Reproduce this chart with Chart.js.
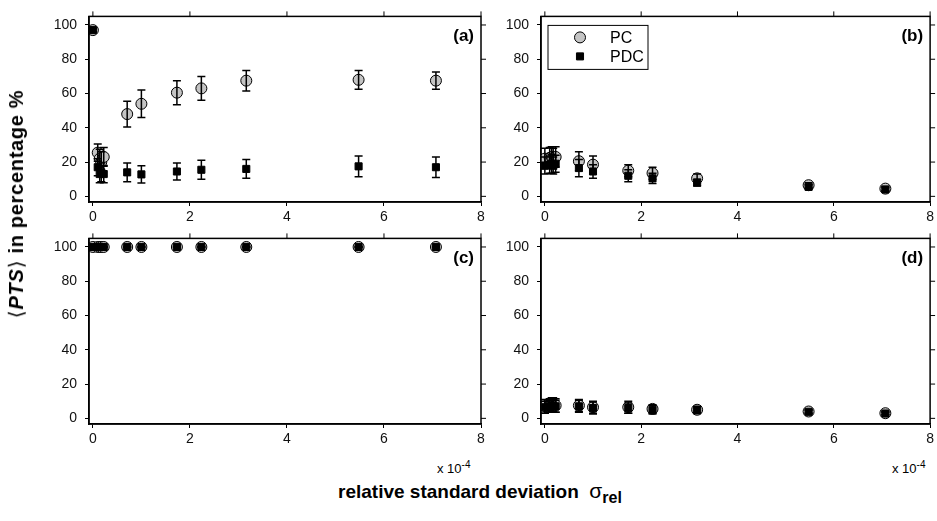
<!DOCTYPE html>
<html lang="en">
<head>
<meta charset="UTF-8">
<title>PTS vs relative standard deviation</title>
<script src="https://cdn.jsdelivr.net/npm/chart.js"></script>
<style>
  body { margin: 0; background: #fff; font-family: "Liberation Sans", Arial, sans-serif; }
  #wrap { position: relative; width: 937px; height: 521px; overflow: hidden; }
  canvas { position: absolute; }
  .lbl { position: absolute; color: #000; white-space: nowrap; }
</style>
</head>
<body>
<div id="wrap">
  <canvas id="chartA" style="left:0;top:0" width="490" height="222"></canvas>
  <canvas id="chartB" style="left:490px;top:0" width="447" height="222"></canvas>
  <canvas id="chartC" style="left:0;top:222px" width="490" height="228"></canvas>
  <canvas id="chartD" style="left:490px;top:222px" width="447" height="228"></canvas>

  <div class="lbl" style="left:16px;top:204px;transform:translate(-50%,-50%) rotate(-90deg);font-size:20px;font-weight:bold;letter-spacing:0.7px;">
    <span style="font-weight:normal">⟨</span><i>PTS</i><span style="font-weight:normal">⟩</span> in percentage %</div>
  <div class="lbl" style="left:437px;top:459px;font-size:13px;">x 10<sup style="font-size:10px">-4</sup></div>
  <div class="lbl" style="left:892px;top:459px;font-size:13px;">x 10<sup style="font-size:10px">-4</sup></div>
  <div class="lbl" style="left:338px;top:479px;font-size:19px;font-weight:bold;">relative standard deviation&nbsp;
    <span style="font-weight:normal;font-size:21px">σ</span><sub style="font-size:16px">rel</sub></div>
</div>

<script>
// x positions (units of 1e-4)
const sigmaRel = [0, 0.1, 0.141, 0.173, 0.224, 0.707, 1.0, 1.732, 2.236, 3.162, 5.477, 7.071];

// (a)
const pcA     = [97, 25.5, 22, 20, 23, 48, 54, 60.5, 63, 67.5, 68, 67.5];
const pcAErr  = [1, 5, 5.5, 6, 5.5, 7.5, 8, 7, 7, 6, 5.5, 5];
const pdcA    = [97, 17, 13, 14, 13, 14, 12.8, 14.5, 15.5, 16, 17.5, 17];
const pdcAErr = [1, 5, 5, 5.5, 5, 5.5, 5, 5, 5.5, 5.5, 6, 6];

// (b)
const pcB     = [22, 22.5, 23, 22, 23, 20.5, 18.5, 15, 13.5, 10.5, 6.5, 4.5];
const pcBErr  = [6, 6, 6, 6, 6, 5.5, 5, 3.5, 3.5, 2.5, 1.5, 1.2];
const pdcB    = [18, 18.5, 19, 18, 19, 16.5, 14.5, 12, 10.5, 8, 5.5, 4];
const pdcBErr = [5, 5, 5.5, 5, 5, 5, 4, 3.5, 3, 2, 1.2, 1];

// (c)
const pcC     = [100, 100, 100, 100, 100, 100, 100, 100, 100, 100, 100, 100];
const pcCErr  = [0.2, 0.2, 0.2, 0.2, 0.2, 0.2, 0.2, 0.2, 0.2, 0.2, 0.2, 0.2];
const pdcC    = [100, 100, 100, 100, 100, 100, 100, 100, 100, 100, 100, 100];
const pdcCErr = [0.2, 0.2, 0.2, 0.2, 0.2, 0.2, 0.2, 0.2, 0.2, 0.2, 0.2, 0.2];

// (d)
const pcD     = [7, 7.5, 8, 8, 7.5, 7.5, 6.5, 6.5, 5.5, 5, 4, 3];
const pcDErr  = [4, 4, 4, 4, 4, 3.5, 3.5, 3.5, 2.5, 2, 1, 0.8];
const pdcD    = [6.5, 7, 7.5, 7.5, 7, 7, 6, 6, 5, 4.8, 3.8, 2.8];
const pdcDErr = [3.5, 3.5, 3.5, 3.5, 3.5, 3.5, 3.5, 3, 2.5, 2, 1, 0.8];

const xTicks = [0, 2, 4, 6, 8];
const yTicks = [0, 20, 40, 60, 80, 100];

const tickFont = { family: '"Liberation Sans", Arial, sans-serif', size: 14 };

// vertical error bars with caps, drawn right after each series
const errorBars = {
  id: 'errorBars',
  afterDatasetDraw(chart, args) {
    const ds = chart.data.datasets[args.index];
    if (!ds.errors) return;
    const y = chart.scales.y;
    const ctx = chart.ctx;
    ctx.save();
    ctx.strokeStyle = '#000';
    ctx.lineWidth = 1.5;
    args.meta.data.forEach((pt, i) => {
      const v = ds.data[i].y, e = ds.errors[i];
      const top = y.getPixelForValue(v + e), bot = y.getPixelForValue(v - e);
      ctx.beginPath();
      ctx.moveTo(pt.x, top); ctx.lineTo(pt.x, bot);
      ctx.moveTo(pt.x - 4, top); ctx.lineTo(pt.x + 4, top);
      ctx.moveTo(pt.x - 4, bot); ctx.lineTo(pt.x + 4, bot);
      ctx.stroke();
    });
    ctx.restore();
  }
};

// box around the axes, outward ticks on top/right, panel tag, legend box
const frame = {
  id: 'frame',
  afterDraw(chart, args, opts) {
    const { ctx, chartArea: a, scales: { x, y } } = chart;
    ctx.save();
    ctx.strokeStyle = '#000';
    ctx.lineWidth = 1.5;
    ctx.strokeRect(a.left, a.top, a.right - a.left, a.bottom - a.top);
    ctx.lineWidth = 1;
    ctx.beginPath();
    x.ticks.forEach(t => {
      const px = x.getPixelForValue(t.value);
      ctx.moveTo(px, a.top); ctx.lineTo(px, a.top - 5);
    });
    y.ticks.forEach(t => {
      const py = y.getPixelForValue(t.value);
      ctx.moveTo(a.right, py); ctx.lineTo(a.right + 5, py);
    });
    ctx.stroke();

    ctx.fillStyle = '#000';
    ctx.font = 'bold 17px "Liberation Sans", Arial, sans-serif';
    ctx.textAlign = 'right';
    ctx.textBaseline = 'middle';
    ctx.fillText(opts.tag, a.right - 7, a.top + 20);

    if (opts.legend) {
      const lx = a.left + 7, ly = a.top + 9;
      ctx.lineWidth = 1;
      ctx.strokeRect(lx, ly, 100, 44);
      ctx.font = '16px "Liberation Sans", Arial, sans-serif';
      ctx.textAlign = 'left';
      chart.data.datasets.forEach((ds, i) => {
        const cy = ly + 12 + i * 19;
        ctx.beginPath();
        if (ds.pointStyle === 'circle') {
          ctx.arc(lx + 32, cy, ds.pointRadius, 0, Math.PI * 2);
        } else {
          const s = ds.pointRadius * Math.SQRT1_2;
          ctx.rect(lx + 32 - s, cy - s, 2 * s, 2 * s);
        }
        ctx.fillStyle = ds.backgroundColor;
        ctx.fill();
        ctx.strokeStyle = ds.borderColor;
        ctx.lineWidth = ds.borderWidth;
        ctx.stroke();
        ctx.fillStyle = '#000';
        ctx.fillText(ds.label, lx + 62, cy + 1);
      });
    }
    ctx.restore();
  }
};

function pts(ys) {
  return sigmaRel.map((x, i) => ({ x: x, y: ys[i] }));
}

function makePanel(id, pc, pcErr, pdc, pdcErr, tag, geo, legend) {
  new Chart(document.getElementById(id), {
    type: 'scatter',
    data: {
      datasets: [
        {
          label: 'PC',
          data: pts(pc),
          errors: pcErr,
          order: 1,             // drawn first, squares go on top
          pointStyle: 'circle',
          pointRadius: 5.5,
          pointHoverRadius: 5.5,
          backgroundColor: '#c4c4c4',
          borderColor: '#000',
          borderWidth: 1
        },
        {
          label: 'PDC',
          data: pts(pdc),
          errors: pdcErr,
          order: 0,
          pointStyle: 'rect',
          pointRadius: 5,
          pointHoverRadius: 5,
          backgroundColor: '#000',
          borderColor: '#000',
          borderWidth: 1
        }
      ]
    },
    options: {
      responsive: false,
      animation: false,
      layout: { padding: { top: geo.top, right: geo.right, left: 0, bottom: 0 } },
      plugins: {
        legend: { display: false },
        tooltip: { enabled: false },
        frame: { tag: tag, legend: legend }
      },
      scales: {
        x: {
          type: 'linear',
          min: -0.08,
          max: 8,
          afterBuildTicks: s => { s.ticks = xTicks.map(v => ({ value: v })); },
          afterFit: s => { s.height = geo.xh; },
          ticks: { font: tickFont, color: '#111', padding: 3, maxRotation: 0 },
          grid: { drawOnChartArea: false, tickLength: 4, color: '#000', lineWidth: 1 },
          border: { color: '#000', width: 1.5 }
        },
        y: {
          type: 'linear',
          min: -3.3,
          max: 105,
          afterBuildTicks: s => { s.ticks = yTicks.map(v => ({ value: v })); },
          afterFit: s => { s.width = geo.yw; },
          ticks: { font: tickFont, color: '#111', padding: 8 },
          grid: { drawOnChartArea: false, tickLength: 4, color: '#000', lineWidth: 1 },
          border: { color: '#000', width: 1.5 }
        }
      }
    },
    plugins: [errorBars, frame]
  });
}

makePanel('chartA', pcA, pcAErr, pdcA, pdcAErr, '(a)', { top: 6, right: 9, xh: 20, yw: 89 }, false);
makePanel('chartB', pcB, pcBErr, pdcB, pdcBErr, '(b)', { top: 6, right: 5, xh: 20, yw: 51 }, true);
makePanel('chartC', pcC, pcCErr, pdcC, pdcCErr, '(c)', { top: 9, right: 9, xh: 26, yw: 89 }, false);
makePanel('chartD', pcD, pcDErr, pdcD, pdcDErr, '(d)', { top: 9, right: 5, xh: 26, yw: 51 }, false);
</script>
</body>
</html>
